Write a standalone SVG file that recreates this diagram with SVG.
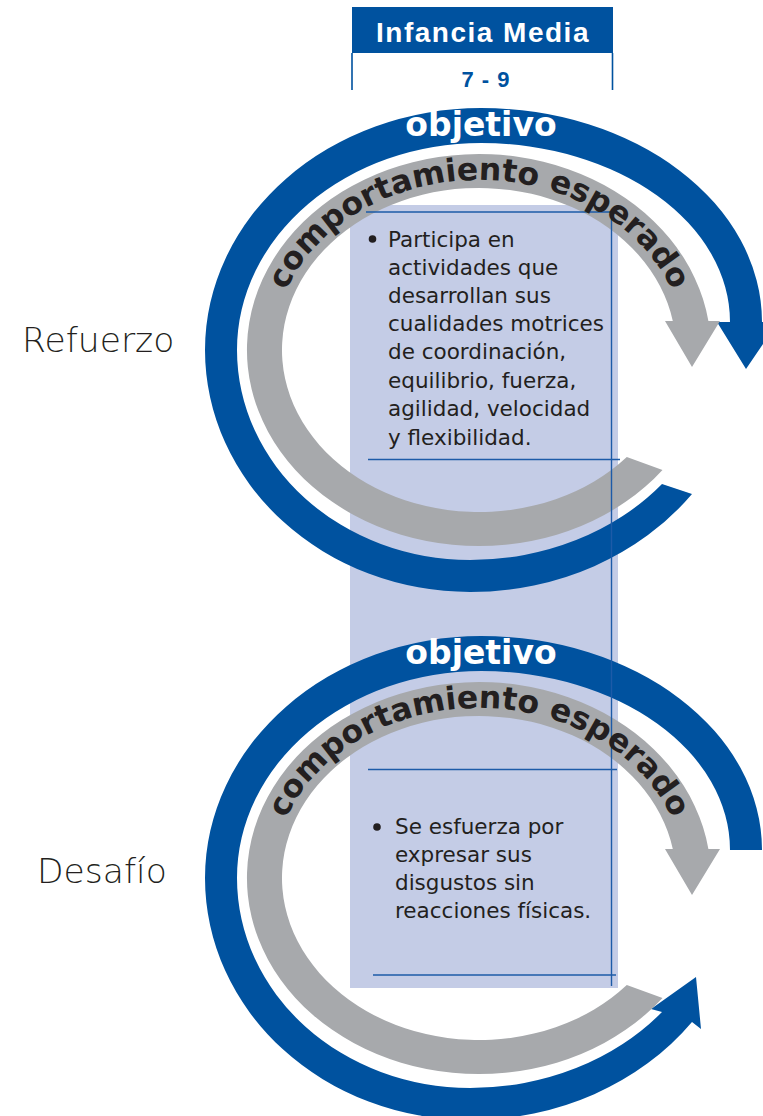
<svg xmlns="http://www.w3.org/2000/svg" width="763" height="1116" viewBox="0 0 763 1116">
<style>
.blue{fill:#00529f}
.gray{fill:#a7a9ac}
.col{fill:#c4cce6}
.rule{stroke:#1d5ba8;stroke-width:1.4;fill:none}
.hdr{stroke:#00529f;stroke-width:1.6;fill:none}
.obj{font-family:"DejaVu Sans",sans-serif;font-weight:bold;font-size:33px;fill:#ffffff;text-anchor:middle}
.arc{font-family:"DejaVu Sans",sans-serif;font-weight:bold;font-size:31.5px;fill:#231f20}
.body{font-family:"DejaVu Sans",sans-serif;font-size:21.5px;fill:#231f20}
.side{font-family:"DejaVu Sans",sans-serif;font-weight:200;font-size:34.5px;fill:#231f20}
</style>
<defs>
<path id="tp1" d="M 273 350 A 206 170 0 0 1 685 350"/>
<path id="tp2" d="M 273 878 A 206 170 0 0 1 685 878"/>
</defs>
<rect width="763" height="1116" fill="#ffffff"/>

<g id="column">
<rect class="col" x="350" y="205" width="268" height="783"/>
</g>

<g id="header">
<rect class="blue" x="352" y="7" width="261" height="46"/>
<path class="hdr" d="M352 53 V90 M612.5 53 V90"/>
<text x="483" y="42" font-family="'Liberation Sans',Arial,sans-serif" font-weight="bold" font-size="28" letter-spacing="1.5" fill="#ffffff" text-anchor="middle">Infancia Media</text>
<text x="486" y="87" font-family="'Liberation Sans',Arial,sans-serif" font-weight="bold" font-size="22" letter-spacing="1" fill="#00529f" text-anchor="middle">7 - 9</text>
</g>

<g id="connectors">
<g id="cycle-refuerzo">
<path class="blue" d="M 762 322 A 281 214 0 0 0 481 108 A 276 242 0 0 0 205 350 A 265 242 0 0 0 470 592 A 276 242 0 0 0 692 494 L 662 484 A 249 210 0 0 1 470 560 A 233 210 0 0 1 237 350 A 244 207 0 0 1 481 143 A 249 179 0 0 1 730 322 L 717 322 L 746 369 L 778 322 Z"/>
<path class="gray" d="M 662.5 469.9 A 232 196 0 1 1 708.4 321 L 720 321 L 692 367 L 665 321 L 672.8 321 A 197 162 0 1 0 626.8 457.1 Z"/>
</g>
<g id="cycle-desafio">
<path class="blue" d="M 762 850 A 281 214 0 0 0 481 636 A 276 242 0 0 0 205 878 A 265 242 0 0 0 470 1120 A 276 242 0 0 0 692 1022 L 701 1029 L 696 977 L 651 1009 L 662 1012 A 249 210 0 0 1 470 1088 A 233 210 0 0 1 237 878 A 244 207 0 0 1 481 671 A 249 179 0 0 1 730 850 Z"/>
<path class="gray" d="M 662.5 997.9 A 232 196 0 1 1 708.4 849 L 720 849 L 692 895 L 665 849 L 672.8 849 A 197 162 0 1 0 626.8 985.1 Z"/>
</g>
</g>

<g id="column-rules">
<path class="rule" d="M366 212 H612 M611.5 212 V986 M368 459.5 H620 M368 769.5 H617 M373 975 H616"/>
</g>

<g id="node-refuerzo">
<text class="obj" x="481" y="136">objetivo</text>
<text class="arc"><textPath href="#tp1" startOffset="50%" text-anchor="middle">comportamiento esperado</textPath></text>
<circle cx="372.5" cy="239" r="3.8" fill="#231f20"/>
<text class="body">
<tspan x="388" y="247">Participa en</tspan>
<tspan x="388" y="275">actividades que</tspan>
<tspan x="388" y="303">desarrollan sus</tspan>
<tspan x="388" y="331">cualidades motrices</tspan>
<tspan x="388" y="359">de coordinación,</tspan>
<tspan x="388" y="388">equilibrio, fuerza,</tspan>
<tspan x="388" y="416">agilidad, velocidad</tspan>
<tspan x="388" y="445">y flexibilidad.</tspan>
</text>
<text class="side" x="22" y="352">Refuerzo</text>
</g>

<g id="node-desafio">
<text class="obj" x="481" y="664">objetivo</text>
<text class="arc"><textPath href="#tp2" startOffset="50%" text-anchor="middle">comportamiento esperado</textPath></text>
<circle cx="377" cy="827" r="3.8" fill="#231f20"/>
<text class="body">
<tspan x="395" y="834">Se esfuerza por</tspan>
<tspan x="395" y="862">expresar sus</tspan>
<tspan x="395" y="890">disgustos sin</tspan>
<tspan x="395" y="918">reacciones físicas.</tspan>
</text>
<text class="side" x="37" y="883">Desafío</text>
</g>
</svg>
